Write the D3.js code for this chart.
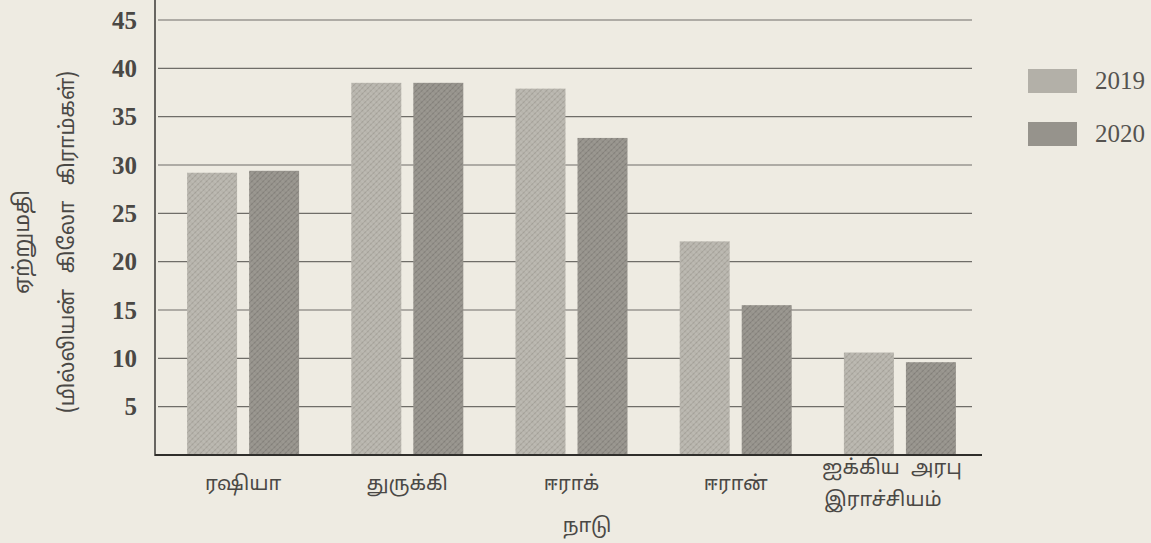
<!DOCTYPE html>
<html>
<head>
<meta charset="utf-8">
<script src="https://cdn.jsdelivr.net/npm/d3@7"></script>
<style>
  html, body { margin: 0; padding: 0; background: #eeebe2; }
  svg { display: block; }
</style>
</head>
<body>
<svg id="chart" width="1151" height="543"></svg>
<script>
const countries = ["ரஷியா", "துருக்கி", "ஈராக்", "ஈரான்", "ஐக்கிய அரபு\nஇராச்சியம்"];
const years = ["2019", "2020"];
const values2019 = [29.2, 38.5, 37.9, 22.1, 10.6];
const values2020 = [29.4, 38.5, 32.8, 15.5, 9.6];
const yTicks = [5, 10, 15, 20, 25, 30, 35, 40, 45];
const xTitle = "நாடு";
const yTitle1 = "ஏற்றுமதி";
const yTitle2 = "(மில்லியன் கிலோ கிராம்கள்)";

const series = { "2019": values2019, "2020": values2020 };
const data = countries.map((c, i) => ({ country: c, values: years.map(y => ({ year: y, value: series[y][i] })) }));

const svg = d3.select("#chart");
const tamilFont = "'Noto Sans Tamil','Lohit Tamil','Noto Sans','DejaVu Sans',sans-serif";
const serifFont = "'Liberation Serif','DejaVu Serif',serif";

// patterns
const defs = svg.append("defs");
function makePattern(id, base, line1, line2) {
  const p = defs.append("pattern").attr("id", id).attr("patternUnits", "userSpaceOnUse")
    .attr("width", 4).attr("height", 4).attr("patternTransform", "rotate(45)");
  p.append("rect").attr("width", 4).attr("height", 4).attr("fill", base);
  p.append("line").attr("x1", 0).attr("y1", 0).attr("x2", 0).attr("y2", 4)
    .attr("stroke", line1).attr("stroke-width", 1.3);
  p.append("line").attr("x1", 0).attr("y1", 2).attr("x2", 4).attr("y2", 2)
    .attr("stroke", line2).attr("stroke-width", 0.7).attr("opacity", 0.6);
}
makePattern("pat2019", "#b7b4ac", "#97948c", "#d0cdc5");
makePattern("pat2020", "#96938c", "#76736d", "#aeaba4");
const fills = { "2019": "url(#pat2019)", "2020": "url(#pat2020)" };
const legendFills = { "2019": "#b3b0a8", "2020": "#96938c" };

const y = d3.scaleLinear().domain([0, 45]).range([455, 20]);
const x0 = d3.scaleBand().domain(countries).range([161, 982]).padding(0);
const x1 = d3.scaleBand().domain(years)
  .range([x0.bandwidth() / 2 - 56, x0.bandwidth() / 2 + 56]).paddingInner(0.194);

// gridlines
svg.append("g").selectAll("line").data(yTicks).join("line")
  .attr("x1", 158).attr("x2", 972)
  .attr("y1", d => y(d)).attr("y2", d => y(d))
  .attr("stroke", "#6f6d68").attr("stroke-width", 1.1);

// y axis
const yAxis = svg.append("g").attr("transform", "translate(155,0)")
  .call(d3.axisLeft(y).tickValues(yTicks).tickSize(0).tickPadding(18));
yAxis.select(".domain").remove();
yAxis.append("line").attr("x1", 0).attr("x2", 0).attr("y1", 0).attr("y2", 456)
  .attr("stroke", "#3a3936").attr("stroke-width", 1.5);
yAxis.selectAll("text")
  .attr("font-family", serifFont).attr("font-weight", "bold")
  .attr("font-size", 25).attr("fill", "#4a4845");

// bars
const groups = svg.append("g").selectAll("g").data(data).join("g")
  .attr("transform", d => `translate(${x0(d.country)},0)`);
groups.selectAll("rect").data(d => d.values).join("rect")
  .attr("x", d => x1(d.year))
  .attr("width", x1.bandwidth())
  .attr("y", d => y(d.value))
  .attr("height", d => y(0) - y(d.value))
  .attr("fill", d => fills[d.year]);

// baseline / x axis
const xAxis = svg.append("g").attr("transform", `translate(0,${y(0)})`)
  .call(d3.axisBottom(x0).tickSize(0).tickFormat(""));
xAxis.select(".domain").remove();
xAxis.append("line").attr("x1", 155).attr("x2", 982).attr("y1", 0).attr("y2", 0)
  .attr("stroke", "#2f2e2b").attr("stroke-width", 2);

// x labels
svg.append("g").selectAll("text").data(countries).join("text")
  .attr("text-anchor", "middle")
  .attr("font-family", tamilFont).attr("font-size", 20).attr("fill", "#4a4845")
  .attr("word-spacing", 6)
  .each(function (d) {
    const lines = d.split("\n");
    const cx = x0(d) + x0.bandwidth() / 2;
    const t = d3.select(this);
    if (lines.length === 1) {
      t.append("tspan").attr("x", cx).attr("y", 490).text(lines[0]);
    } else {
      t.append("tspan").attr("x", cx - 8).attr("y", 474).text(lines[0]);
      t.append("tspan").attr("x", cx - 17).attr("y", 506).text(lines[1]);
    }
  });

// x title
svg.append("text").attr("x", 587).attr("y", 532).attr("text-anchor", "middle")
  .attr("font-family", tamilFont).attr("font-size", 20).attr("fill", "#4a4845")
  .text(xTitle);

// y titles
svg.append("text").attr("transform", "translate(29,242) rotate(-90)")
  .attr("text-anchor", "middle").attr("font-family", tamilFont)
  .attr("font-size", 22).attr("fill", "#4a4845").text(yTitle1);
svg.append("text").attr("transform", "translate(74,242) rotate(-90)")
  .attr("text-anchor", "middle").attr("font-family", tamilFont)
  .attr("font-size", 21).attr("word-spacing", 10).attr("fill", "#4a4845").text(yTitle2);

// legend
const legend = svg.append("g").selectAll("g").data(years).join("g")
  .attr("transform", (d, i) => `translate(1028,${69 + i * 53})`);
legend.append("rect").attr("width", 49).attr("height", 24)
  .attr("fill", d => legendFills[d]);
legend.append("text").attr("x", 67).attr("y", 20)
  .attr("font-family", serifFont).attr("font-size", 25).attr("fill", "#555350")
  .text(d => d);
</script>
</body>
</html>
